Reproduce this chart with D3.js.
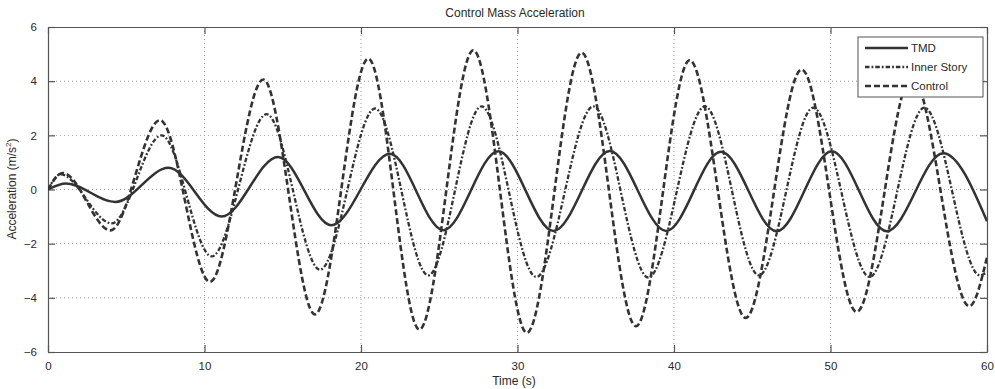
<!DOCTYPE html>
<html>
<head>
<meta charset="utf-8">
<script src="https://cdn.jsdelivr.net/npm/d3@7"></script>
<style>
  html, body { margin: 0; padding: 0; background: #fff; }
  svg { display: block; }
  text { font-family: "Liberation Sans", Arial, sans-serif; fill: #2a2a2a; }
</style>
</head>
<body>
<svg id="chart" width="995" height="389"></svg>
<script>
// ---- Data (extrema points of each signal) ----
const tmdTime   = [0, 1.15, 4.3, 7.7, 11.1, 14.7, 18.1, 21.85, 25.26, 28.77, 32.3, 35.9, 39.5, 43.0, 46.56, 50.08, 53.6, 57.2, 60];
const tmdValues = [0, 0.22, -0.46, 0.8, -1.0, 1.2, -1.32, 1.32, -1.5, 1.41, -1.53, 1.42, -1.53, 1.39, -1.54, 1.41, -1.54, 1.34, -1.17];

const innerTime   = [0, 0.8, 4.07, 7.26, 10.46, 13.97, 17.38, 20.9, 24.3, 27.7, 31.2, 34.85, 38.36, 41.98, 45.43, 48.9, 52.5, 56.0, 59.55, 60];
const innerValues = [0, 0.56, -1.25, 2.0, -2.47, 2.78, -2.96, 2.99, -3.17, 3.07, -3.23, 3.07, -3.25, 3.07, -3.17, 3.02, -3.23, 3.02, -3.17, -3.05];

const controlTime   = [0, 0.95, 4.0, 7.16, 10.35, 13.76, 17.06, 20.47, 23.73, 27.18, 30.6, 34.1, 37.57, 41.0, 44.58, 48.16, 51.67, 55.2, 58.87, 60];
const controlValues = [0, 0.61, -1.51, 2.56, -3.41, 4.06, -4.61, 4.83, -5.17, 5.14, -5.29, 5.05, -5.05, 4.77, -4.74, 4.43, -4.52, 4.2, -4.31, -2.5];

const xTicks = [0, 10, 20, 30, 40, 50, 60];
const yTicks = [-6, -4, -2, 0, 2, 4, 6];
const seriesNames = ["TMD", "Inner Story", "Control"];

// ---- Layout ----
const svg = d3.select("#chart");
const L = 48, R = 987, T = 27, B = 352;
const x = d3.scaleLinear().domain([0, 60]).range([L, R]);
const y = d3.scaleLinear().domain([-6, 6]).range([B, T]);

const axisColor = "#555";
const gridColor = "#9a9a9a";
const lineColor = "#333";

// Grid (dotted)
const grid = svg.append("g");
grid.selectAll("line.gx").data(xTicks.slice(1, -1)).enter().append("line")
  .attr("x1", d => x(d)).attr("x2", d => x(d)).attr("y1", T).attr("y2", B)
  .attr("stroke", gridColor).attr("stroke-width", 1).attr("stroke-dasharray", "1,3");
grid.selectAll("line.gy").data(yTicks.slice(1, -1)).enter().append("line")
  .attr("y1", d => y(d)).attr("y2", d => y(d)).attr("x1", L).attr("x2", R)
  .attr("stroke", gridColor).attr("stroke-width", 1).attr("stroke-dasharray", "1,3");

// Axes with inward ticks (MATLAB style)
const tickLen = 7;
const xAxisB = d3.axisBottom(x).tickValues(xTicks).tickSizeInner(-tickLen).tickSizeOuter(0).tickPadding(tickLen + 3);
const xAxisT = d3.axisTop(x).tickValues(xTicks).tickSizeInner(-tickLen).tickSizeOuter(0).tickFormat("");
const yAxisL = d3.axisLeft(y).tickValues(yTicks).tickSizeInner(-tickLen).tickSizeOuter(0).tickPadding(tickLen + 4);
const yAxisR = d3.axisRight(y).tickValues(yTicks).tickSizeInner(-tickLen).tickSizeOuter(0).tickFormat("");

function styleAxis(g) {
  g.select(".domain").attr("stroke", axisColor).attr("stroke-width", 1.2);
  g.selectAll(".tick line").attr("stroke", axisColor).attr("stroke-width", 1.2);
  g.selectAll(".tick text").attr("font-size", 11.5).attr("fill", "#333")
    .style("font-family", "'Liberation Sans', Arial, sans-serif");
}
svg.append("g").attr("transform", `translate(0,${B})`).call(xAxisB).call(styleAxis);
svg.append("g").attr("transform", `translate(0,${T})`).call(xAxisT).call(styleAxis);
svg.append("g").attr("transform", `translate(${L},0)`).call(yAxisL).call(styleAxis);
svg.append("g").attr("transform", `translate(${R},0)`).call(yAxisR).call(styleAxis);

// Lines
svg.append("clipPath").attr("id", "clip").append("rect")
  .attr("x", L).attr("y", T).attr("width", R - L).attr("height", B - T);

const line = d3.line().x(d => x(d[0])).y(d => y(d[1])).curve(d3.curveMonotoneX);
const series = [
  { name: "TMD", t: tmdTime, v: tmdValues, dash: null, w: 2.5 },
  { name: "Inner Story", t: innerTime, v: innerValues, dash: "4.5,2,1.8,2", w: 2.3 },
  { name: "Control", t: controlTime, v: controlValues, dash: "6,3", w: 2.6 }
];
const plot = svg.append("g").attr("clip-path", "url(#clip)");
series.forEach(s => {
  plot.append("path")
    .datum(s.t.map((t, i) => [t, s.v[i]]))
    .attr("d", line)
    .attr("fill", "none")
    .attr("stroke", lineColor)
    .attr("stroke-width", s.w)
    .attr("stroke-dasharray", s.dash)
    .attr("stroke-linejoin", "round");
});

// Title and labels
svg.append("text").attr("x", 515).attr("y", 17).attr("text-anchor", "middle")
  .attr("font-size", 12).text("Control Mass Acceleration");
svg.append("text").attr("x", 514).attr("y", 385).attr("text-anchor", "middle")
  .attr("font-size", 12).text("Time (s)");
const yl = svg.append("text").attr("transform", "translate(16,189) rotate(-90)")
  .attr("text-anchor", "middle").attr("font-size", 12);
yl.append("tspan").text("Acceleration (m/s");
yl.append("tspan").attr("font-size", 8).attr("dy", -5).text("2");
yl.append("tspan").attr("dy", 5).text(")");

// Legend
const lg = svg.append("g");
lg.append("rect").attr("x", 858).attr("y", 37).attr("width", 125).attr("height", 60)
  .attr("fill", "#fff").attr("stroke", axisColor).attr("stroke-width", 1);
seriesNames.forEach((name, i) => {
  const s = series[i];
  const yy = 48 + i * 19;
  lg.append("line").attr("x1", 865).attr("x2", 908).attr("y1", yy).attr("y2", yy)
    .attr("stroke", lineColor).attr("stroke-width", s.w).attr("stroke-dasharray", s.dash);
  lg.append("text").attr("x", 911).attr("y", yy + 4).attr("font-size", 11.5).text(name);
});
</script>
</body>
</html>
